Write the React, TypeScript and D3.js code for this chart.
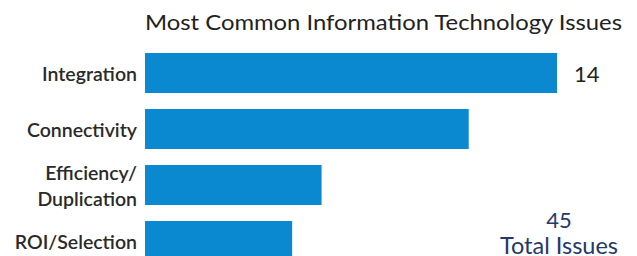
import React from "react";
import * as d3 from "d3";

const categories = ["Integration", "Connectivity", "Efficiency/\nDuplication", "ROI/Selection"];
const values = [14, 11, 6, 5];
const totalIssues = 45;
const title = "Most Common Information Technology Issues";

export default function App() {
  const width = 637;
  const height = 256;
  const left = 145;
  const font = "Lato, 'Open Sans', sans-serif";

  const x = d3.scaleLinear().domain([0, 14]).range([left, 557]);
  const y = d3
    .scaleBand()
    .domain(categories)
    .range([45, 45 + 4 * 56])
    .paddingInner(16 / 56)
    .paddingOuter(8 / 56);

  const maxVal = d3.max(values);

  return (
    <svg
      width={width}
      height={height}
      style={{ position: "absolute", left: 0, top: 0, fontFamily: font }}
    >
      <text x={left} y={30} fontSize={21} fill="#222" textLength={477} lengthAdjust="spacingAndGlyphs">
        {title}
      </text>
      {categories.map((c, i) => {
        const yy = y(c);
        const mid = yy + y.bandwidth() / 2;
        const lines = c.split("\n");
        return (
          <g key={c}>
            <rect x={x(0)} y={yy} width={x(values[i]) - x(0)} height={y.bandwidth()} fill="#0A88D0" />
            <text
              x={137}
              y={mid + 8 - ((lines.length - 1) * 26) / 2}
              textAnchor="end"
              fontSize={19.5}
              fontWeight={600}
              fill="#2a2a2a"
            >
              {lines.map((l, j) => (
                <tspan key={j} x={137} dy={j === 0 ? 0 : 26}>
                  {l}
                </tspan>
              ))}
            </text>
            {values[i] === maxVal && (
              <text x={x(values[i]) + 17} y={mid + 9} fontSize={22} fill="#222">
                {values[i]}
              </text>
            )}
          </g>
        );
      })}
      <text x={559} y={228} textAnchor="middle" fontSize={22} fill="#24386a">
        {totalIssues}
      </text>
      <text x={559} y={254} textAnchor="middle" fontSize={23.5} fill="#24386a">
        Total Issues
      </text>
    </svg>
  );
}
